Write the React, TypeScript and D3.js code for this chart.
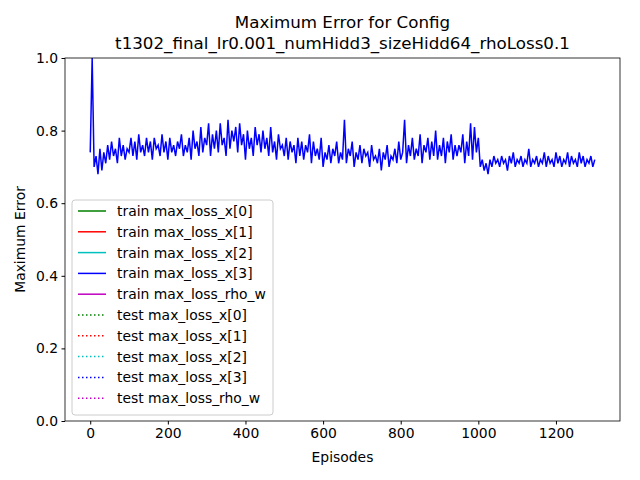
import React, { useEffect, useRef } from 'react';
import * as d3 from 'd3';

const STEP = 5;
const lossX3: number[] = [
  0.74, 1.0, 0.70, 0.73, 0.68, 0.75, 0.69, 0.74, 0.71, 0.76,
  0.72, 0.77, 0.73, 0.75, 0.71, 0.78, 0.73, 0.76, 0.72, 0.75,
  0.74, 0.78, 0.73, 0.77, 0.72, 0.79, 0.74, 0.76, 0.73, 0.78,
  0.74, 0.77, 0.72, 0.78, 0.75, 0.76, 0.73, 0.79, 0.74, 0.77,
  0.72, 0.78, 0.74, 0.76, 0.73, 0.77, 0.75, 0.79, 0.73, 0.76,
  0.74, 0.78, 0.72, 0.80, 0.75, 0.77, 0.73, 0.81, 0.74, 0.78,
  0.76, 0.82, 0.73, 0.79, 0.75, 0.80, 0.74, 0.82, 0.76, 0.78,
  0.73, 0.83, 0.75, 0.80, 0.77, 0.81, 0.74, 0.82, 0.76, 0.79,
  0.72, 0.80, 0.75, 0.78, 0.73, 0.81, 0.76, 0.79, 0.74, 0.80,
  0.75, 0.78, 0.73, 0.81, 0.74, 0.77, 0.72, 0.79, 0.75, 0.76,
  0.73, 0.78, 0.72, 0.77, 0.74, 0.76, 0.71, 0.78, 0.73, 0.77,
  0.72, 0.76, 0.74, 0.79, 0.71, 0.77, 0.73, 0.75, 0.72, 0.78,
  0.70, 0.74, 0.72, 0.76, 0.71, 0.75, 0.73, 0.77, 0.71, 0.74,
  0.72, 0.83, 0.71, 0.75, 0.73, 0.77, 0.70, 0.74, 0.72, 0.76,
  0.71, 0.75, 0.73, 0.74, 0.70, 0.76, 0.72, 0.73, 0.71, 0.75,
  0.69, 0.74, 0.72, 0.76, 0.70, 0.73, 0.72, 0.75, 0.71, 0.77,
  0.72, 0.74, 0.83, 0.71, 0.76, 0.73, 0.78, 0.72, 0.75, 0.73,
  0.79, 0.71, 0.76, 0.74, 0.78, 0.72, 0.77, 0.73, 0.80, 0.72,
  0.76, 0.73, 0.78, 0.71, 0.77, 0.74, 0.79, 0.72, 0.76, 0.73,
  0.76, 0.74, 0.79, 0.71, 0.77, 0.73, 0.82, 0.72, 0.81, 0.74,
  0.78, 0.70, 0.72, 0.69, 0.71, 0.68, 0.72, 0.70, 0.73, 0.71,
  0.72, 0.70, 0.73, 0.71, 0.72, 0.69, 0.73, 0.71, 0.74, 0.70,
  0.72, 0.71, 0.73, 0.70, 0.72, 0.71, 0.75, 0.70, 0.72, 0.71,
  0.73, 0.70, 0.72, 0.71, 0.74, 0.70, 0.73, 0.71, 0.72, 0.70,
  0.74, 0.71, 0.73, 0.70, 0.72, 0.71, 0.74, 0.70, 0.73, 0.71,
  0.72, 0.70, 0.74, 0.71, 0.73, 0.70, 0.72, 0.71, 0.73, 0.70,
  0.72,
];

const xTicks = [0, 200, 400, 600, 800, 1000, 1200];
const yTicks = [0.0, 0.2, 0.4, 0.6, 0.8, 1.0];
const legendLabels = [
  'train max_loss_x[0]', 'train max_loss_x[1]', 'train max_loss_x[2]', 'train max_loss_x[3]', 'train max_loss_rho_w',
  'test max_loss_x[0]', 'test max_loss_x[1]', 'test max_loss_x[2]', 'test max_loss_x[3]', 'test max_loss_rho_w',
];
const legendColors = ['green', 'red', '#00bfbf', 'blue', '#bf00bf', 'green', 'red', '#00bfbf', 'blue', '#bf00bf'];

const App: React.FC = () => {
  const ref = useRef<SVGSVGElement | null>(null);

  useEffect(() => {
    if (!ref.current) return;
    const svg = d3.select(ref.current);
    svg.selectAll('*').remove();
    const font = 'DejaVu Sans';
    const left = 65, right = 620, top = 58, bottom = 421;

    const x = d3.scaleLinear().domain([-65, 1365]).range([left, right]);
    const y = d3.scaleLinear().domain([0, 1]).range([bottom, top]);

    svg.append('rect').attr('width', 640).attr('height', 480).attr('fill', 'white');

    const clip = svg.append('clipPath').attr('id', 'clip');
    clip.append('rect').attr('x', left).attr('y', top).attr('width', right - left).attr('height', bottom - top);

    const line = d3.line<number>().x((_, i) => x(i * STEP)).y(d => y(d));
    svg.append('path').datum(lossX3).attr('clip-path', 'url(#clip)')
      .attr('d', line).attr('fill', 'none').attr('stroke', 'blue').attr('stroke-width', 1.5);

    const xa = svg.append('g').attr('transform', `translate(0,${bottom})`)
      .call(d3.axisBottom(x).tickValues(xTicks).tickSize(3.5).tickPadding(3.5).tickFormat(d3.format('d')));
    const ya = svg.append('g').attr('transform', `translate(${left},0)`)
      .call(d3.axisLeft(y).tickValues(yTicks).tickSize(3.5).tickPadding(3.5).tickFormat(d3.format('.1f')));
    [xa, ya].forEach(a => {
      a.select('.domain').remove();
      a.selectAll('text').attr('font-family', font).attr('font-size', 13.9).attr('fill', 'black');
      a.selectAll('line').attr('stroke', 'black');
    });

    svg.append('rect').attr('x', left).attr('y', top).attr('width', right - left).attr('height', bottom - top)
      .attr('fill', 'none').attr('stroke', 'black').attr('stroke-width', 0.8);

    svg.append('text').attr('x', (left + right) / 2).attr('y', 462).attr('text-anchor', 'middle')
      .attr('font-family', font).attr('font-size', 13.9).text('Episodes');
    svg.append('text').attr('transform', `translate(25,${(top + bottom) / 2}) rotate(-90)`).attr('text-anchor', 'middle')
      .attr('font-family', font).attr('font-size', 13.9).text('Maximum Error');
    svg.append('text').attr('x', (left + right) / 2).attr('y', 28).attr('text-anchor', 'middle')
      .attr('font-family', font).attr('font-size', 16.7).text('Maximum Error for Config');
    svg.append('text').attr('x', (left + right) / 2).attr('y', 49).attr('text-anchor', 'middle')
      .attr('font-family', font).attr('font-size', 16.7).text('t1302_final_lr0.001_numHidd3_sizeHidd64_rhoLoss0.1');

    const lg = svg.append('g').attr('transform', 'translate(72,200)');
    lg.append('rect').attr('width', 201).attr('height', 215).attr('rx', 3)
      .attr('fill', 'white').attr('fill-opacity', 0.8).attr('stroke', '#cccccc');
    legendLabels.forEach((lab, i) => {
      const yy = 11 + i * 20.8;
      lg.append('line').attr('x1', 6).attr('x2', 34).attr('y1', yy).attr('y2', yy)
        .attr('stroke', legendColors[i]).attr('stroke-width', 1.5)
        .attr('stroke-dasharray', i >= 5 ? '1.5,2.5' : null);
      lg.append('text').attr('x', 45).attr('y', yy + 5).attr('font-family', font).attr('font-size', 13.9).text(lab);
    });
  }, []);

  return <svg ref={ref} width={640} height={480} style={{ position: 'absolute', left: 0, top: 0 }} />;
};

export default App;
